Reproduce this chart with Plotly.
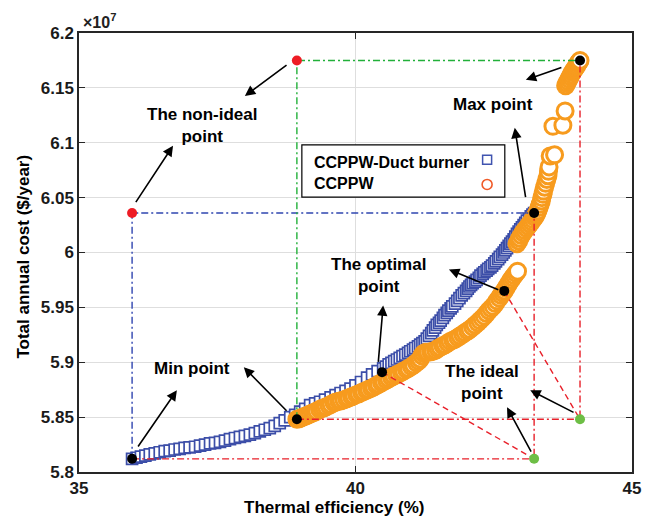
import plotly.graph_objects as go

# Thermal efficiency (%) and total annual cost (x 1e7 $/year) of the Pareto fronts
duct_eff = [35.96, 36.04, 36.12, 36.20, 36.28, 36.37, 36.46, 36.55, 36.64, 36.73,
            36.82, 36.91, 37.00, 37.10, 37.19, 37.28, 37.37, 37.46, 37.55, 37.64,
            37.73, 37.82, 37.91, 38.00, 38.09, 38.18, 38.27, 38.36, 38.45, 38.54,
            38.63, 38.72, 38.82, 38.91, 39.00, 39.09, 39.18, 39.27, 39.36, 39.45,
            39.55, 39.64, 39.73, 39.82, 39.91, 40.00, 40.10, 40.21, 40.30, 40.40,
            40.50, 40.55, 40.60, 40.65, 40.70, 40.75, 40.80, 40.85, 40.90, 40.95,
            40.99, 41.04, 41.08, 41.13, 41.17, 41.21, 41.25, 41.29, 41.33, 41.37,
            41.40, 41.44, 41.47, 41.51, 41.54, 41.58, 41.61, 41.65, 41.68, 41.72,
            41.75, 41.80, 41.84, 41.88, 41.92, 41.96, 42.00, 42.03, 42.06, 42.09,
            42.12, 42.16, 42.19, 42.23, 42.26, 42.30, 42.33, 42.37, 42.40, 42.44,
            42.47, 42.51, 42.54, 42.58, 42.61, 42.65, 42.68, 42.71, 42.74, 42.77,
            42.80, 42.83, 42.86, 42.89, 42.92, 42.95, 42.98, 43.01, 43.04, 43.07,
            43.10, 43.14, 43.17, 43.20, 43.23]
duct_cost = [5.812, 5.813, 5.814, 5.815, 5.816, 5.817, 5.818, 5.819, 5.8195, 5.8205,
             5.821, 5.822, 5.8225, 5.823, 5.824, 5.825, 5.826, 5.8265, 5.8275, 5.8285,
             5.830, 5.831, 5.832, 5.833, 5.834, 5.8355, 5.837, 5.8385, 5.840, 5.842,
             5.8445, 5.847, 5.850, 5.852, 5.855, 5.8575, 5.861, 5.8625, 5.864, 5.866,
             5.868, 5.870, 5.872, 5.874, 5.876, 5.879, 5.882, 5.886, 5.889, 5.892,
             5.8945, 5.896, 5.898, 5.8995, 5.901, 5.9025, 5.904, 5.9055, 5.907, 5.9085,
             5.910, 5.9115, 5.913, 5.9145, 5.916, 5.9175, 5.919, 5.9215, 5.924, 5.9265,
             5.929, 5.9315, 5.934, 5.936, 5.938, 5.9405, 5.943, 5.945, 5.947, 5.949,
             5.951, 5.9535, 5.956, 5.9585, 5.961, 5.963, 5.965, 5.967, 5.969, 5.9705,
             5.972, 5.9735, 5.975, 5.977, 5.979, 5.9805, 5.982, 5.9835, 5.985, 5.9865,
             5.988, 5.990, 5.992, 5.994, 5.996, 5.998, 6.000, 6.002, 6.004, 6.006,
             6.008, 6.010, 6.012, 6.0145, 6.017, 6.019, 6.021, 6.023, 6.025, 6.027,
             6.029, 6.031, 6.033, 6.0345, 6.036]

ccppw_eff = [38.94, 38.98, 39.02, 39.06, 39.10, 39.14, 39.18, 39.22, 39.26, 39.30,
             39.35, 39.39, 39.43, 39.47, 39.52, 39.56, 39.61, 39.65, 39.70, 39.74,
             39.79, 39.84, 39.88, 39.93, 39.97, 40.02, 40.06, 40.11, 40.15, 40.20,
             40.24, 40.29, 40.33, 40.38, 40.42, 40.47, 40.51, 40.56, 40.60, 40.65,
             40.69, 40.74, 40.78, 40.83, 40.87, 40.92, 40.96, 41.01, 41.05, 41.10,
             41.14, 41.17, 41.20, 41.23, 41.27, 41.31, 41.36, 41.40, 41.45, 41.49,
             41.53, 41.58, 41.62, 41.67, 41.71, 41.76, 41.80, 41.85, 41.89, 41.94,
             41.98, 42.03, 42.07, 42.12, 42.16, 42.21, 42.25, 42.29, 42.33, 42.37,
             42.41, 42.45, 42.49, 42.53, 42.56, 42.60, 42.63, 42.66, 42.69, 42.72,
             42.75, 42.78, 42.81, 42.84, 42.87, 42.90, 42.93,
             42.92, 42.95, 42.97, 43.00, 43.03, 43.06, 43.09, 43.12, 43.15, 43.18,
             43.21, 43.24, 43.26, 43.28, 43.30, 43.32, 43.34, 43.36, 43.37, 43.39,
             43.40, 43.42, 43.44, 43.46, 43.48, 43.49, 43.50, 43.52,
             43.60, 43.57, 43.75, 43.79,
             43.80, 43.82, 43.84, 43.86, 43.88, 43.90, 43.92, 43.94, 43.96, 43.98,
             44.00, 44.02, 44.03, 44.05, 44.06]
ccppw_cost = [5.848, 5.8485, 5.8495, 5.8503, 5.851, 5.852, 5.8528, 5.8537, 5.8545, 5.8555,
              5.857, 5.8578, 5.8586, 5.8594, 5.8605, 5.8617, 5.863, 5.8637, 5.8644, 5.865,
              5.8658, 5.8668, 5.8676, 5.8685, 5.8694, 5.8705, 5.8713, 5.8724, 5.8733, 5.8744,
              5.8753, 5.8764, 5.8775, 5.8788, 5.880, 5.8813, 5.8825, 5.8838, 5.885, 5.8863,
              5.8875, 5.8885, 5.8895, 5.8908, 5.892, 5.8933, 5.8945, 5.896, 5.8975, 5.8995,
              5.901, 5.903, 5.906, 5.908, 5.909, 5.909, 5.9095, 5.910, 5.911, 5.9125,
              5.9136, 5.915, 5.916, 5.9175, 5.919, 5.920, 5.921, 5.9225, 5.924, 5.9255,
              5.927, 5.9285, 5.930, 5.932, 5.934, 5.936, 5.938, 5.940, 5.942, 5.9445,
              5.947, 5.949, 5.951, 5.9535, 5.956, 5.9585, 5.961, 5.963, 5.965, 5.9675,
              5.970, 5.9725, 5.975, 5.977, 5.979, 5.981, 5.983,
              6.008, 6.0105, 6.013, 6.0155, 6.018, 6.020, 6.022, 6.024, 6.026, 6.028,
              6.030, 6.032, 6.034, 6.036, 6.038, 6.041, 6.044, 6.047, 6.050, 6.053,
              6.056, 6.0595, 6.063, 6.0665, 6.070, 6.074, 6.078, 6.088,
              6.089, 6.115, 6.116, 6.129,
              6.152, 6.154, 6.156, 6.158, 6.160, 6.162, 6.164, 6.1655, 6.167, 6.1685,
              6.170, 6.172, 6.173, 6.174, 6.175]

# Extreme and optimal points of each front: (efficiency, cost)
duct_min = (35.96, 5.812)
duct_max = (43.23, 6.036)
duct_opt = (40.48, 5.891)
ccppw_min = (38.94, 5.848)
ccppw_max = (44.06, 6.175)
ccppw_opt = (42.69, 5.965)

x_ticks = [35, 40, 45]
y_ticks = [5.8, 5.85, 5.9, 5.95, 6.0, 6.05, 6.1, 6.15, 6.2]
y_ticklabels = ["5.8", "5.85", "5.9", "5.95", "6", "6.05", "6.1", "6.15", "6.2"]

FONT = "Liberation Sans, Arial, sans-serif"
BLUE = "#3C4EA8"
ORANGE = "#F79B1E"
RED = "#E8202A"
GREEN = "#22B03A"
DASHDOT = "7px,3px,2px,3px"

# ideal = (max efficiency, min cost); non-ideal = (min efficiency, max cost)
duct_ideal = (duct_max[0], duct_min[1])
duct_nonideal = (duct_min[0], duct_max[1])
ccppw_ideal = (ccppw_max[0], ccppw_min[1])
ccppw_nonideal = (ccppw_min[0], ccppw_max[1])

fig = go.Figure()

# white-faced markers so overlapping symbols leave light crescents
fig.add_trace(go.Scatter(
    x=duct_eff, y=duct_cost, mode="markers", name="CCPPW-Duct burner",
    marker=dict(symbol="square", size=11, color="white",
                line=dict(width=1.7, color=BLUE)),
    showlegend=False))
fig.add_trace(go.Scatter(
    x=ccppw_eff, y=ccppw_cost, mode="markers", name="CCPPW",
    marker=dict(symbol="circle", size=16, color="white",
                line=dict(width=3, color=ORANGE)),
    showlegend=False))


def line(xs, ys, color, dash):
    fig.add_trace(go.Scatter(x=xs, y=ys, mode="lines", showlegend=False,
                             hoverinfo="skip",
                             line=dict(color=color, width=1.4, dash=dash)))


# bounding boxes between the non-ideal and ideal points
line([duct_min[0], duct_nonideal[0], duct_max[0]],
     [duct_min[1], duct_nonideal[1], duct_max[1]], "#2F45B0", DASHDOT)
line([duct_min[0], duct_ideal[0], duct_max[0]],
     [duct_min[1], duct_ideal[1], duct_max[1]], RED, DASHDOT)
line([ccppw_min[0], ccppw_nonideal[0], ccppw_max[0]],
     [ccppw_min[1], ccppw_nonideal[1], ccppw_max[1]], GREEN, DASHDOT)
line([ccppw_min[0], ccppw_ideal[0], ccppw_max[0]],
     [ccppw_min[1], ccppw_ideal[1], ccppw_max[1]], RED, DASHDOT)
# distance from the optimal point to the ideal point
line([duct_opt[0], duct_ideal[0]], [duct_opt[1], duct_ideal[1]], RED, "6px,4px")
line([ccppw_opt[0], ccppw_ideal[0]], [ccppw_opt[1], ccppw_ideal[1]], RED, "6px,4px")


def points(pts, color):
    fig.add_trace(go.Scatter(x=[p[0] for p in pts], y=[p[1] for p in pts],
                             mode="markers", showlegend=False,
                             marker=dict(size=10, color=color)))


points([duct_min, duct_max, duct_opt, ccppw_min, ccppw_max, ccppw_opt], "black")
points([duct_nonideal, ccppw_nonideal], "#EE1C25")
points([duct_ideal, ccppw_ideal], "#6DBE45")

annotations = []
label_font = dict(family=FONT, size=17, color="black")


def label(text, x, y):
    annotations.append(dict(x=x, y=y, xref="x", yref="y", text=f"<b>{text}</b>",
                            xanchor="center", yanchor="middle",
                            showarrow=False, font=label_font))


def arrow(tail, head):
    annotations.append(dict(x=head[0], y=head[1], ax=tail[0], ay=tail[1],
                            xref="x", yref="y", axref="x", ayref="y", text="",
                            showarrow=True, arrowhead=2, arrowsize=1.3,
                            arrowwidth=1.6, arrowcolor="black"))


label("The non-ideal<br>point", 37.24, 6.1155)
arrow((38.78, 6.1718), (38.00, 6.1427))
arrow((36.01, 6.0445), (36.70, 6.0973))

label("Min point", 37.04, 5.8945)
arrow((36.05, 5.8218), (36.77, 5.8745))
arrow((38.78, 5.8545), (37.98, 5.8955))

label("The optimal<br>point", 40.41, 5.979)
arrow((40.41, 5.899), (40.50, 5.9518))
arrow((42.61, 5.9655), (41.69, 5.9845))

label("The ideal<br>point", 42.29, 5.8818)
arrow((43.97, 5.8536), (43.16, 5.8745))
arrow((43.19, 5.8173), (42.74, 5.859))

label("Max point", 42.49, 6.1345)
arrow((43.75, 6.169), (43.08, 6.1573))
arrow((43.08, 6.049), (42.88, 6.1136))

# axis titles and exponent
annotations.append(dict(x=0.461, y=-0.08, xref="paper", yref="paper",
                        xanchor="center", yanchor="middle",
                        text="<b>Thermal efficiency (%)</b>", showarrow=False,
                        font=dict(family=FONT, size=17, color="black")))
annotations.append(dict(x=-0.1, y=0.49, xref="paper", yref="paper",
                        xanchor="center", yanchor="middle",
                        text="<b>Total annual cost ($/year)</b>", textangle=-90,
                        showarrow=False,
                        font=dict(family=FONT, size=17, color="black")))
annotations.append(dict(x=0.004, y=1.0, xref="paper", yref="paper",
                        xanchor="left", yanchor="bottom",
                        text="<b>×10<sup>7</sup></b>", showarrow=False,
                        font=dict(family=FONT, size=16, color="#222222")))

# legend box
legend_font = dict(family=FONT, size=16, color="black")
annotations.append(dict(x=0.421, y=0.706, xref="paper", yref="paper",
                        xanchor="left", yanchor="middle",
                        text="<b>CCPPW-Duct burner</b>",
                        showarrow=False, font=legend_font))
annotations.append(dict(x=0.421, y=0.658, xref="paper", yref="paper",
                        xanchor="left", yanchor="middle", text="<b>CCPPW</b>",
                        showarrow=False, font=legend_font))

shapes = [
    dict(type="rect", xref="paper", yref="paper", x0=0.403, x1=0.770,
         y0=0.626, y1=0.745, line=dict(color="black", width=1.2),
         fillcolor="white", layer="above"),
    dict(type="rect", xref="paper", yref="paper", xsizemode="pixel",
         ysizemode="pixel", xanchor=0.738, yanchor=0.711,
         x0=-4.5, x1=4.5, y0=-4.5, y1=4.5,
         line=dict(color="#4054B0", width=1.5), layer="above"),
    dict(type="circle", xref="paper", yref="paper", xsizemode="pixel",
         ysizemode="pixel", xanchor=0.738, yanchor=0.655,
         x0=-5, x1=5, y0=-5, y1=5,
         line=dict(color="#F05A28", width=1.6), layer="above"),
]

axis_common = dict(showline=True, linecolor="#262626", linewidth=1.5,
                   mirror="ticks", ticks="inside", ticklen=6, tickwidth=1.2,
                   tickcolor="#262626", showgrid=True, gridcolor="#DEDEDE",
                   gridwidth=1, zeroline=False,
                   tickfont=dict(family=FONT, size=17, color="#1a1a1a"))

fig.update_layout(
    width=653, height=524,
    margin=dict(l=79, r=21, t=33, b=52),
    plot_bgcolor="white", paper_bgcolor="white",
    xaxis=dict(range=[35, 45], tickvals=x_ticks,
               ticktext=[f"<b>{v}</b>" for v in x_ticks], **axis_common),
    yaxis=dict(range=[5.8, 6.2], tickvals=y_ticks,
               ticktext=[f"<b>{t}</b>" for t in y_ticklabels], **axis_common),
    annotations=annotations,
    shapes=shapes,
    showlegend=False,
)

fig.write_html("out.html")
